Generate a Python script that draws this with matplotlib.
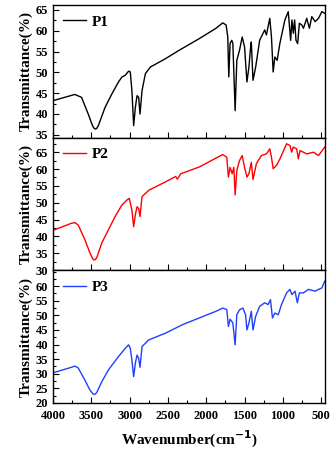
import matplotlib.pyplot as plt
from matplotlib.ticker import MultipleLocator

# FTIR spectra (wavenumber in cm-1, transmittance in %)
wn_p1 = [4000, 3715, 3627, 3540, 3500, 3474, 3452, 3430, 3408, 3320, 3232, 3145, 3100, 3057,
         3013, 2991, 2970, 2947, 2925, 2903, 2882, 2864, 2838, 2794, 2728, 2531, 2355, 2092,
         1873, 1785, 1741, 1719, 1706, 1689, 1667, 1653, 1623, 1601, 1566, 1531, 1500, 1469,
         1443, 1425, 1412, 1390, 1355, 1303, 1259, 1237, 1215, 1171, 1149, 1127, 1105, 1075,
         1039, 974, 930, 899, 882, 864, 847, 829, 807, 785, 754, 732, 689, 654, 623, 579, 535,
         491, 455]
t_p1 = [43.2, 44.7, 44.0, 40.0, 38.0, 36.8, 36.4, 36.5, 37.2, 41.6, 44.8, 47.7, 48.9, 49.3,
        50.3, 50.1, 45.6, 37.2, 41.6, 44.4, 44.0, 40.0, 45.6, 49.7, 51.3, 53.3, 55.3, 58.1,
        60.6, 61.9, 61.4, 58.5, 48.9, 57.0, 57.7, 57.0, 40.8, 52.9, 55.3, 58.5, 56.1, 47.7,
        51.3, 55.3, 57.3, 48.1, 51.3, 57.7, 59.4, 60.2, 59.0, 63.0, 58.5, 50.1, 53.7, 52.9,
        57.0, 62.6, 64.6, 57.7, 62.6, 59.4, 62.6, 57.7, 56.9, 61.8, 61.4, 60.6, 63.0, 60.6,
        63.4, 62.2, 63.0, 64.6, 64.2]

wn_p2 = [4000, 3759, 3715, 3671, 3583, 3518, 3490, 3474, 3455, 3430, 3364, 3276, 3189, 3101,
         3035, 3004, 2970, 2947, 2925, 2903, 2882, 2864, 2838, 2750, 2531, 2399, 2377, 2333,
         2092, 1785, 1732, 1711, 1689, 1662, 1640, 1623, 1601, 1566, 1531, 1500, 1469, 1443,
         1412, 1390, 1346, 1281, 1215, 1171, 1149, 1127, 1083, 1039, 952, 908, 886, 864, 820,
         798, 776, 689, 601, 535, 455]
t_p2 = [41.8, 43.9, 44.1, 43.4, 39.0, 35.1, 33.8, 33.1, 33.0, 33.6, 38.0, 42.0, 45.9, 49.3,
        50.8, 51.3, 47.8, 42.9, 46.4, 48.8, 48.3, 45.9, 51.8, 53.7, 56.2, 57.8, 57.0, 58.6,
        60.6, 64.3, 63.5, 57.6, 60.5, 58.6, 60.5, 52.3, 59.6, 62.5, 64.0, 60.5, 57.6, 58.6,
        62.0, 56.9, 61.6, 64.0, 64.5, 66.0, 63.5, 60.1, 61.1, 63.0, 67.5, 67.0, 65.0, 66.5,
        66.0, 63.0, 65.5, 64.5, 65.0, 64.0, 66.5]

wn_p3 = [4000, 3759, 3715, 3671, 3583, 3518, 3490, 3474, 3455, 3430, 3364, 3276, 3145, 3057,
         3013, 2991, 2970, 2947, 2925, 2903, 2882, 2864, 2838, 2750, 2531, 2311, 2092, 1873,
         1785, 1732, 1711, 1689, 1653, 1623, 1601, 1566, 1522, 1487, 1469, 1443, 1412, 1390,
         1355, 1303, 1237, 1193, 1162, 1136, 1105, 1061, 1018, 952, 908, 882, 842, 811, 785,
         732, 667, 579, 535, 491, 455]
t_p3 = [30.3, 32.2, 32.6, 32.0, 27.8, 24.4, 23.5, 23.0, 22.9, 23.5, 27.2, 31.3, 35.9, 38.7,
        39.9, 38.7, 34.7, 29.0, 33.6, 36.4, 35.3, 32.2, 39.3, 41.6, 43.9, 46.8, 49.1, 51.4,
        52.5, 52.0, 46.2, 48.7, 47.4, 39.9, 50.2, 51.9, 52.5, 50.2, 45.0, 47.4, 51.4, 45.0,
        49.7, 53.1, 54.3, 53.7, 55.4, 49.1, 50.8, 50.2, 53.7, 57.7, 58.9, 57.1, 58.3, 54.3,
        57.7, 57.7, 58.9, 58.3, 58.9, 59.4, 61.7]

labels = ['P1', 'P2', 'P3']
colors = ['black', '#ff0000', '#2040ff']
ylims = [(34.3, 66.2), (29.9, 69.3), (19.9, 65.4)]
yticks = [range(35, 66, 5), range(30, 66, 5), range(20, 61, 5)]

plt.rcParams['font.family'] = 'Liberation Serif'
plt.rcParams['font.weight'] = 'bold'

fig, axes = plt.subplots(3, 1, figsize=(3.31, 4.53), dpi=100, sharex=True,
                         gridspec_kw={'hspace': 0})
fig.subplots_adjust(left=0.16, right=0.982, top=0.989, bottom=0.110)

series = [(wn_p1, t_p1), (wn_p2, t_p2), (wn_p3, t_p3)]
for ax, (wn, t), lab, c, yl, yt in zip(axes, series, labels, colors, ylims, yticks):
    ax.plot(wn, t, color=c, lw=1.0, label=lab)
    ax.set_ylim(*yl)
    ax.set_yticks(list(yt))
    ax.yaxis.set_minor_locator(MultipleLocator(2.5))
    ax.set_ylabel('Transmittance(%)', fontsize=11, fontweight='bold', labelpad=2)
    ax.tick_params(which='both', direction='in', labelsize=9, width=0.8)
    ax.tick_params(which='major', length=4)
    ax.tick_params(which='minor', length=2.5)
    for s in ax.spines.values():
        s.set_linewidth(1.0)
    ax.legend(loc='upper left', frameon=False, handlelength=1.5, handletextpad=0.4,
              prop={'size': 11, 'weight': 'bold'}, borderaxespad=0.25)
    for tl in ax.get_yticklabels():
        tl.set_fontweight('bold')

ax = axes[-1]
ax.set_xlim(4000, 450)
ax.xaxis.set_major_locator(MultipleLocator(500))
ax.xaxis.set_minor_locator(MultipleLocator(250))
ax.tick_params(axis='x', which='major', pad=5)
for tl in ax.get_xticklabels():
    tl.set_fontweight('bold')
ax.set_xlabel('Wavenumber(cm$^{\\mathbf{-1}}$)', fontsize=11, fontweight='bold', labelpad=5)
fig.align_ylabels(axes)

fig.savefig('out.png', dpi=100)
